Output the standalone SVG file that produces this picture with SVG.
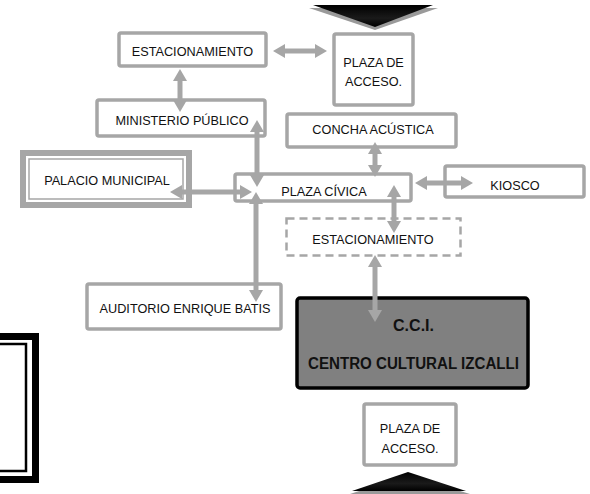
<svg xmlns="http://www.w3.org/2000/svg" width="590" height="494" viewBox="0 0 590 494">
<defs>
<style>
.box{fill:#fff;stroke:#a6a6a6;stroke-width:3.5}
.dash{fill:#fff;stroke:#a6a6a6;stroke-width:2.5;stroke-dasharray:8 5}
.t{font-family:"Liberation Sans",Arial,sans-serif;font-size:12.7px;fill:#111;text-anchor:middle}
.tb{font-family:"Liberation Sans",Arial,sans-serif;font-size:16px;font-weight:bold;fill:#111;text-anchor:middle}
.arr{fill:none;stroke:#a6a6a6;stroke-width:5;marker-start:url(#ah);marker-end:url(#ah)}
</style>
<marker id="ah" markerUnits="userSpaceOnUse" markerWidth="14" markerHeight="16" refX="0" refY="7" orient="auto-start-reverse" overflow="visible">
<path d="M0,0 L12,7 L0,14 z" fill="#a6a6a6"/>
</marker>
<linearGradient id="gd" x1="0" y1="0" x2="0" y2="1">
<stop offset="0" stop-color="#000"/>
<stop offset="0.6" stop-color="#1a1a1a"/>
<stop offset="1" stop-color="#000"/>
</linearGradient>
</defs>

<g id="flecha-superior">
<polygon points="309,8 438,8 375,30" fill="#9a9a9a"/>
<polygon points="313,5 433,5 375,27" fill="url(#gd)"/>
</g>
<g id="flecha-inferior">
<polygon points="408,475 350,494 470,494" fill="#9a9a9a"/>
<polygon points="408,472 352,491 466,491" fill="url(#gd)"/>
</g>

<g id="marco-izquierdo">
<rect x="-20" y="336.5" width="55.5" height="143" fill="none" stroke="#000" stroke-width="7"/>
<rect x="-20" y="344" width="46" height="127" fill="none" stroke="#000" stroke-width="2.5"/>
</g>

<g id="estacionamiento-1">
<rect class="box" x="119" y="33" width="147" height="33" rx="2"/>
<text class="t" x="192.5" y="56">ESTACIONAMIENTO</text>
</g>
<g id="plaza-acceso-1">
<rect class="box" x="334" y="34" width="79" height="71" rx="2"/>
<text class="t" x="373.5" y="67">PLAZA DE</text>
<text class="t" x="373.5" y="86">ACCESO.</text>
</g>
<g id="ministerio-publico">
<rect class="box" x="97" y="100" width="168" height="36" rx="2"/>
<text class="t" x="182" y="125">MINISTERIO PÚBLICO</text>
</g>
<g id="concha-acustica">
<rect class="box" x="287" y="114" width="169" height="33" rx="2"/>
<text class="t" x="373" y="134">CONCHA ACÚSTICA</text>
</g>
<g id="palacio-municipal">
<rect x="23" y="153" width="166" height="52" fill="#fff" stroke="#a6a6a6" stroke-width="6"/>
<rect x="29" y="159" width="154" height="40" fill="none" stroke="#a6a6a6" stroke-width="1.5"/>
<text class="t" x="107" y="185">PALACIO MUNICIPAL</text>
</g>
<g id="plaza-civica">
<rect class="box" x="235" y="174" width="176" height="27" rx="2"/>
<text class="t" x="324" y="196">PLAZA CÍVICA</text>
</g>
<g id="kiosco">
<rect class="box" x="445" y="166" width="139" height="31" rx="2"/>
<text class="t" x="515" y="190">KIOSCO</text>
</g>
<g id="estacionamiento-2">
<rect class="dash" x="286.5" y="218.5" width="174" height="37"/>
<text class="t" x="373" y="244">ESTACIONAMIENTO</text>
</g>
<g id="auditorio">
<rect class="box" x="87" y="284" width="194" height="45" rx="2"/>
<text class="t" x="185" y="313">AUDITORIO ENRIQUE BATIS</text>
</g>
<g id="cci">
<rect x="297" y="298" width="231" height="90" rx="3" fill="#808080" stroke="#000" stroke-width="3.5"/>
<text class="tb" x="413.5" y="331" textLength="41" lengthAdjust="spacingAndGlyphs">C.C.I.</text>
<text class="tb" x="413.5" y="369" textLength="211" lengthAdjust="spacingAndGlyphs">CENTRO CULTURAL IZCALLI</text>
</g>
<g id="plaza-acceso-2">
<rect class="box" x="364" y="404" width="92" height="61" rx="2"/>
<text class="t" x="410" y="433">PLAZA DE</text>
<text class="t" x="410" y="453">ACCESO.</text>
</g>

<g id="conectores">
<path class="arr" d="M285,51 L315,51"/>
<path class="arr" d="M180,81 L180,100"/>
<path class="arr" d="M257,132 L257,175"/>
<path class="arr" d="M182,192 L240,192"/>
<path class="arr" d="M256,204 L256,290"/>
<path class="arr" d="M375,154 L375,165"/>
<path class="arr" d="M427,183 L461,183"/>
<path class="arr" d="M394,197 L394,221"/>
<path class="arr" d="M375,267 L375,310"/>
</g>
</svg>
